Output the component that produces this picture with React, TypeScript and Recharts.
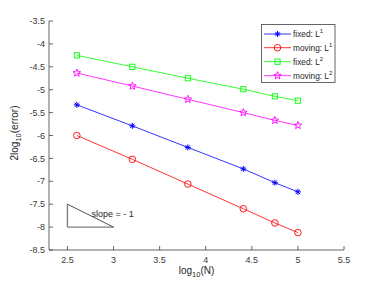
import React from 'react';
import { LineChart, Line, XAxis, YAxis, ReferenceLine, ReferenceDot, Label } from 'recharts';

const logN = [2.602, 3.204, 3.806, 4.408, 4.75, 5.0];
const fixedL1 = [-5.33, -5.79, -6.26, -6.73, -7.03, -7.23];
const movingL1 = [-6.0, -6.52, -7.06, -7.6, -7.91, -8.12];
const fixedL2 = [-4.25, -4.5, -4.75, -4.99, -5.145, -5.24];
const movingL2 = [-4.635, -4.92, -5.21, -5.5, -5.67, -5.78];
const xTicks = [2.5, 3, 3.5, 4, 4.5, 5, 5.5];
const yTicks = [-8.5, -8, -7.5, -7, -6.5, -6, -5.5, -5, -4.5, -4, -3.5];
const seriesNames = ['fixed: L', 'moving: L', 'fixed: L', 'moving: L'];
const seriesSup = ['1', '1', '2', '2'];
const seriesColors = ['#0000ff', '#ff0000', '#00ff00', '#ff00ff'];
const seriesKeys = ['fixedL1', 'movingL1', 'fixedL2', 'movingL2'];
const seriesMarkers = ['asterisk', 'circle', 'square', 'star'];

const data = logN.map((x, i) => ({
  x,
  fixedL1: fixedL1[i],
  movingL1: movingL1[i],
  fixedL2: fixedL2[i],
  movingL2: movingL2[i],
}));

const FONT = 'Liberation Sans, Arial, Helvetica, sans-serif';

function Marker({ type, cx, cy, color }: { type: string; cx: number; cy: number; color: string }) {
  if (cx == null || cy == null) return null;
  if (type === 'circle') {
    return <circle cx={cx} cy={cy} r={3.3} fill="none" stroke={color} strokeWidth={0.9} />;
  }
  if (type === 'square') {
    return <rect x={cx - 2.6} y={cy - 2.6} width={5.2} height={5.2} fill="none" stroke={color} strokeWidth={0.9} />;
  }
  if (type === 'asterisk') {
    const r = 3;
    const d = r * 0.72;
    return (
      <g stroke={color} strokeWidth={1}>
        <line x1={cx - r} y1={cy} x2={cx + r} y2={cy} />
        <line x1={cx} y1={cy - r} x2={cx} y2={cy + r} />
        <line x1={cx - d} y1={cy - d} x2={cx + d} y2={cy + d} />
        <line x1={cx - d} y1={cy + d} x2={cx + d} y2={cy - d} />
      </g>
    );
  }
  const pts: string[] = [];
  const R = 4;
  const r2 = 1.7;
  for (let k = 0; k < 10; k++) {
    const ang = -Math.PI / 2 + (k * Math.PI) / 5;
    const rad = k % 2 === 0 ? R : r2;
    pts.push(`${cx + rad * Math.cos(ang)},${cy + rad * Math.sin(ang)}`);
  }
  return <polygon points={pts.join(' ')} fill="none" stroke={color} strokeWidth={0.9} />;
}

function LegendBox() {
  const rows = [10, 23.7, 37.7, 51.7];
  return (
    <svg width={76} height={60} style={{ display: 'block' }}>
      <rect x={0.5} y={0.5} width={73.5} height={58} fill="#fff" stroke="#404040" strokeWidth={0.8} />
      {seriesNames.map((n, i) => (
        <g key={i}>
          <line x1={3} y1={rows[i]} x2={30} y2={rows[i]} stroke={seriesColors[i]} strokeWidth={0.8} />
          <Marker type={seriesMarkers[i]} cx={16.5} cy={rows[i]} color={seriesColors[i]} />
          <text x={32} y={rows[i] + 3.3} fontSize={8.3} fontFamily={FONT} fill="#262626">
            {n}
            <tspan dy={-4} fontSize={6}>{seriesSup[i]}</tspan>
          </text>
        </g>
      ))}
    </svg>
  );
}

export default function App() {
  return (
    <div style={{ position: 'absolute', left: 0, top: 0, width: 380, height: 285, background: '#fff' }}>
      <LineChart width={380} height={285} data={data} margin={{ top: 21, right: 36, bottom: 34, left: 48 }}>
        <XAxis
          dataKey="x"
          type="number"
          domain={[2.3, 5.5]}
          ticks={xTicks}
          allowDataOverflow
          height={1}
          tickSize={-4}
          tickMargin={11}
          stroke="#404040"
          tick={{ fontSize: 9, fontFamily: FONT, fill: '#3a3a3a' }}
          axisLine={{ stroke: '#404040', strokeWidth: 0.8 }}
          tickLine={{ stroke: '#404040', strokeWidth: 0.8 }}
        >
          <Label
            content={() => (
              <text x={196.5} y={274} textAnchor="middle" fontSize={10} fontFamily={FONT} fill="#262626">
                log
                <tspan dy={3} fontSize={7.5}>10</tspan>
                <tspan dy={-3}>(N)</tspan>
              </text>
            )}
          />
        </XAxis>
        <YAxis
          type="number"
          domain={[-8.5, -3.5]}
          ticks={yTicks}
          allowDataOverflow
          width={1}
          tickSize={-4}
          tickMargin={8}
          stroke="#404040"
          tick={{ fontSize: 9, fontFamily: FONT, fill: '#3a3a3a' }}
          axisLine={{ stroke: '#404040', strokeWidth: 0.8 }}
          tickLine={{ stroke: '#404040', strokeWidth: 0.8 }}
        >
          <Label
            content={() => (
              <text
                x={18}
                y={133}
                textAnchor="middle"
                fontSize={10}
                fontFamily={FONT}
                fill="#262626"
                transform="rotate(-90 18 133)"
              >
                2log
                <tspan dy={3} fontSize={7.5}>10</tspan>
                <tspan dy={-3}>(error)</tspan>
              </text>
            )}
          />
        </YAxis>
        <ReferenceLine segment={[{ x: 2.5, y: -7.5 }, { x: 2.5, y: -8 }]} stroke="#808080" strokeWidth={1.4} />
        <ReferenceLine segment={[{ x: 2.5, y: -8 }, { x: 3, y: -8 }]} stroke="#808080" strokeWidth={1.4} />
        <ReferenceLine segment={[{ x: 2.5, y: -7.5 }, { x: 3, y: -8 }]} stroke="#222" strokeWidth={0.8} />
        <ReferenceDot
          x={2.76}
          y={-7.7}
          r={0}
          fill="none"
          stroke="none"
          label={(p: any) => {
            const vb = p.viewBox || {};
            const cx = vb.x != null ? vb.x + (vb.width || 0) / 2 : 0;
            const cy = vb.y != null ? vb.y + (vb.height || 0) / 2 : 0;
            return (
              <text x={cx} y={cy + 3.2} fontSize={9} fontFamily={FONT} fill="#262626">
                slope = - 1
              </text>
            );
          }}
        />
        {seriesKeys.map((k, i) => (
          <Line
            key={k}
            dataKey={k}
            type="linear"
            stroke={seriesColors[i]}
            strokeWidth={0.8}
            isAnimationActive={false}
            dot={(p: any) => <Marker key={`${k}-${p.index}`} type={seriesMarkers[i]} cx={p.cx} cy={p.cy} color={seriesColors[i]} />}
            activeDot={false}
          />
        ))}
      </LineChart>
      <div style={{ position: 'absolute', left: 261, top: 24 }}>
        <LegendBox />
      </div>
    </div>
  );
}
